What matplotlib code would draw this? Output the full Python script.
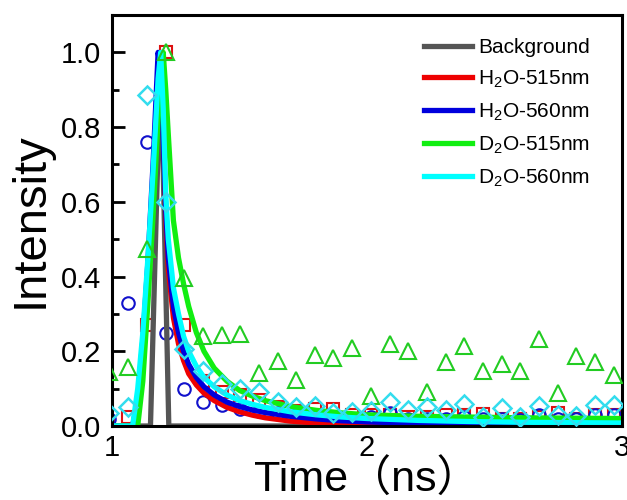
import matplotlib
matplotlib.use("Agg")
import matplotlib.pyplot as plt

plt.rcParams['font.family'] = ['Liberation Sans', 'Noto Sans CJK SC', 'DejaVu Sans']
plt.rcParams['mathtext.fontset'] = 'custom'
plt.rcParams['mathtext.rm'] = 'Liberation Sans'

# measured points (ns) -- same time channels for all four samples
pt_time = [0.989, 1.063, 1.136, 1.209, 1.282, 1.356, 1.429, 1.502, 1.575, 1.649,
           1.722, 1.795, 1.868, 1.942, 2.015, 2.088, 2.161, 2.235, 2.308, 2.381,
           2.454, 2.528, 2.601, 2.674, 2.747, 2.821, 2.894, 2.967]
pt_h2o_515 = [0.01, 0.024, 0.27, 1.0, 0.27, 0.12, 0.09, 0.083, 0.07, 0.05,
              0.04, 0.045, 0.045, 0.03, 0.03, 0.03, 0.025, 0.025, 0.03, 0.03,
              0.032, 0.02, 0.02, 0.025, 0.035, 0.02, 0.03, 0.03]
pt_h2o_560 = [0.02, 0.33, 0.76, 0.25, 0.10, 0.065, 0.055, 0.045, 0.04, 0.035,
              0.03, 0.03, 0.025, 0.02, 0.025, 0.035, 0.02, 0.02, 0.02, 0.025,
              0.02, 0.02, 0.015, 0.03, 0.02, 0.02, 0.03, 0.03]
pt_d2o_515 = [0.145, 0.158, 0.475, 1.0, 0.395, 0.24, 0.244, 0.247, 0.142, 0.175,
              0.122, 0.19, 0.182, 0.21, 0.079, 0.22, 0.202, 0.092, 0.17, 0.215,
              0.148, 0.166, 0.146, 0.233, 0.088, 0.188, 0.171, 0.137]
pt_d2o_560 = [0.035, 0.052, 0.885, 0.60, 0.205, 0.148, 0.113, 0.10, 0.09, 0.064,
              0.051, 0.054, 0.035, 0.038, 0.041, 0.064, 0.043, 0.051, 0.043, 0.059,
              0.025, 0.048, 0.024, 0.054, 0.03, 0.027, 0.056, 0.056]

# fitted curves
fit_time = [1.00, 1.06, 1.08, 1.10, 1.12, 1.14, 1.16, 1.18, 1.19, 1.20, 1.21, 1.22,
            1.24, 1.26, 1.28, 1.30, 1.33, 1.36, 1.40, 1.45, 1.50, 1.55, 1.60, 1.70,
            1.80, 1.90, 2.00, 2.20, 2.40, 2.60, 2.80, 3.00]
fit_h2o_515 = [0, 0, 0, 0.06, 0.22, 0.42, 0.66, 0.92, 1.0, 0.82, 0.56, 0.42,
               0.29, 0.22, 0.175, 0.14, 0.11, 0.088, 0.068, 0.05, 0.038, 0.029, 0.022, 0.013,
               0.008, 0.005, 0.003, 0.001, 0, 0, 0, 0]
fit_h2o_560 = [0, 0, 0, 0.07, 0.23, 0.44, 0.70, 1.0, 0.95, 0.78, 0.58, 0.45,
               0.32, 0.25, 0.20, 0.165, 0.13, 0.105, 0.083, 0.064, 0.052, 0.043, 0.036, 0.026,
               0.019, 0.014, 0.011, 0.007, 0.005, 0.004, 0.003, 0.003]
fit_d2o_515 = [0, 0, 0, 0.0, 0.12, 0.33, 0.56, 0.82, 0.93, 1.0, 0.90, 0.78,
               0.55, 0.45, 0.38, 0.32, 0.25, 0.20, 0.155, 0.12, 0.095, 0.08, 0.068, 0.052,
               0.042, 0.035, 0.030, 0.026, 0.024, 0.022, 0.021, 0.020]
fit_d2o_560 = [0, 0, 0, 0.10, 0.25, 0.45, 0.68, 0.93, 1.0, 0.85, 0.62, 0.50,
               0.37, 0.30, 0.24, 0.20, 0.16, 0.13, 0.105, 0.083, 0.068, 0.058, 0.050, 0.038,
               0.030, 0.024, 0.020, 0.015, 0.012, 0.010, 0.009, 0.008]

bg_time = [1.00, 1.15, 1.19, 1.222, 3.00]
bg_val = [0, 0, 1.0, 0, 0]

fig = plt.figure(figsize=(6.27, 5.0), dpi=100)
ax = fig.add_axes([0.179, 0.148, 0.813, 0.822])

# open markers
ax.plot(pt_time, pt_h2o_515, ls='none', marker='s', ms=8, mfc='none', mec='#dd1111', mew=1.5, zorder=1)
ax.plot(pt_time, pt_h2o_560, ls='none', marker='o', ms=9, mfc='none', mec='#1111cc', mew=1.5, zorder=1)

lw = 3.8
ax.plot(bg_time, bg_val, color='#555555', lw=lw, label='Background', zorder=1.5)
ax.plot(fit_time, fit_h2o_515, color='#ee0000', lw=lw, label='H$_2$O-515nm', zorder=2)
ax.plot(fit_time, fit_h2o_560, color='#0000dd', lw=lw, label='H$_2$O-560nm', zorder=2.1)
ax.plot(fit_time, fit_d2o_515, color='#11ee11', lw=lw, label='D$_2$O-515nm', zorder=2.2)
ax.plot(fit_time, fit_d2o_560, color='#00ffff', lw=lw, label='D$_2$O-560nm', zorder=2.3)

ax.plot(pt_time, pt_d2o_515, ls='none', marker='^', ms=11, mfc='none', mec='#22cc22', mew=1.5, zorder=3)
ax.plot(pt_time, pt_d2o_560, ls='none', marker='D', ms=9, mfc='none', mec='#33ddee', mew=1.8, zorder=3.1)

ax.set_xlim(1, 3)
ax.set_ylim(0, 1.1)
ax.set_xticks([1, 2, 3])
ax.set_xticklabels(['1', '2', '3'])
ax.set_yticks([0, 0.2, 0.4, 0.6, 0.8, 1.0])
ax.set_yticks([0.1, 0.3, 0.5, 0.7, 0.9], minor=True)
ax.yaxis.set_major_formatter(matplotlib.ticker.FormatStrFormatter('%.1f'))
ax.tick_params(axis='both', which='major', direction='in', length=9, width=2, labelsize=21)
ax.tick_params(axis='both', which='minor', direction='in', length=5, width=2)
ax.tick_params(axis='x', pad=6)
ax.tick_params(axis='y', pad=8)
for sp in ax.spines.values():
    sp.set_linewidth(2.2)

ax.set_xlabel('Time（ns）', fontsize=31, labelpad=-2)
ax.set_ylabel('Intensity', fontsize=34, labelpad=6)

handles, labels = ax.get_legend_handles_labels()
ax.legend(handles, labels,
          loc='upper left', bbox_to_anchor=(0.575, 0.99), frameon=False,
          fontsize=15, handlelength=2.3, handletextpad=0.3, labelspacing=0.55)

fig.savefig('out.png', dpi=100)
